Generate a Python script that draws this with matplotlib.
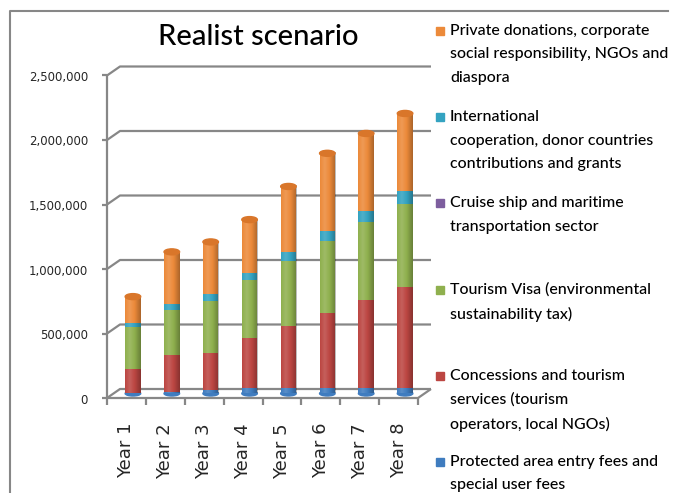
import numpy as np
import matplotlib
matplotlib.use("Agg")
import matplotlib.pyplot as plt
from matplotlib.patches import Ellipse, Rectangle
from matplotlib.lines import Line2D

years = ["Year 1", "Year 2", "Year 3", "Year 4", "Year 5", "Year 6", "Year 7", "Year 8"]

# stacked bottom -> top
protected = [5000, 10000, 30000, 40000, 40000, 40000, 40000, 40000]
concessions = [185000, 291000, 284000, 394000, 485000, 587000, 685000, 786000]
visa = [322000, 345000, 404000, 443000, 501000, 554000, 605000, 642000]
cruise = [0, 0, 0, 0, 0, 0, 0, 0]
international = [38000, 46000, 51000, 59000, 72000, 77000, 87000, 104000]
private = [201000, 406000, 406000, 412000, 507000, 604000, 599000, 599000]

series = [
    ("Protected area entry fees and\nspecial user fees", protected, "#3F7CBF"),
    ("Concessions and tourism\nservices (tourism\noperators, local NGOs)", concessions, "#BC4642"),
    ("Tourism Visa (environmental\nsustainability tax)", visa, "#8FB04E"),
    ("Cruise ship and maritime\ntransportation sector", cruise, "#7D5E9E"),
    ("International\ncooperation, donor countries\ncontributions and grants", international, "#34A3C1"),
    ("Private donations, corporate\nsocial responsibility, NGOs and\ndiaspora", private, "#EC8A3A"),
]

yticks = [0, 500000, 1000000, 1500000, 2000000, 2500000]
ytick_labels = ["0", "500,000", "1,000,000", "1,500,000", "2,000,000", "2,500,000"]

W, H = 673, 493
fig = plt.figure(figsize=(W / 100, H / 100), dpi=100)
fig.patch.set_facecolor("white")

# mid-depth plane of the fake 3D plot
ax = fig.add_axes([113.5 / W, (H - 393.5) / H, 311 / W, 322.5 / H])
ax.set_axis_off()
xlim = (-0.5, 7.5)
ylim = (0, 2500000)
ax.set_xlim(*xlim)
ax.set_ylim(*ylim)
ax.set_autoscale_on(False)

ux = (xlim[1] - xlim[0]) / 311.0
uy = (ylim[1] - ylim[0]) / 322.5
ddx, ddy = 6.5 * ux, 4.5 * uy

grid_c = "#878787"
lk = dict(color=grid_c, lw=1.6, clip_on=False, solid_capstyle="butt")

# back wall gridlines + connectors to the front axis
for v, lab in zip(yticks, ytick_labels):
    ax.plot([xlim[0] - ddx, xlim[0] + ddx, xlim[1] + ddx],
            [v - ddy, v + ddy, v + ddy], zorder=0, **lk)
    ax.plot([xlim[0] - ddx - 5 * ux, xlim[0] - ddx], [v - ddy, v - ddy], zorder=0, **lk)
    ax.text(xlim[0] - ddx - 19 * ux, v - ddy - 2 * uy, lab, ha="right", va="center",
            fontsize=8.5, color="#262626", family="DejaVu Sans")

# front left axis and floor
ax.plot([xlim[0] - ddx, xlim[0] - ddx], [ylim[0] - ddy, ylim[1] - ddy], zorder=0, **lk)
ax.plot([xlim[0] - ddx, xlim[1] - ddx, xlim[1] + ddx],
        [-ddy, -ddy, ddy], zorder=6, **lk)
for b in np.arange(xlim[0], xlim[1] + 0.01, 1.0):
    ax.plot([b - ddx, b - ddx], [-ddy, -ddy - 7 * uy], zorder=6, **lk)

x = np.arange(len(years))
bw = 0.4

# bottom curve of the cylinders
for i in x:
    ax.add_patch(Ellipse((i, 0), bw, 5 * uy, color=series[0][2], zorder=2.9, clip_on=False))

bottom = np.zeros(len(years))
for name, vals, col in series:
    ax.bar(x, vals, bw, bottom=bottom, color=col, zorder=3, linewidth=0)
    bottom = bottom + np.array(vals)

# cylinder shading
t = np.linspace(0, 1, 64)
sh = np.interp(t, [0, 0.3, 0.6, 1], [0.0, 0.14, 0.0, -0.28])
rgba = np.zeros((1, 64, 4))
rgba[0, :, :3] = np.where(sh[:, None] > 0, 1.0, 0.0)
rgba[0, :, 3] = np.abs(sh)
for i, tot in zip(x, bottom):
    ax.imshow(rgba, extent=(i - bw / 2, i + bw / 2, 0, tot), aspect="auto",
              zorder=4, interpolation="bilinear")
    ax.add_patch(Ellipse((i, tot), bw, 6 * uy, color="#D9762A", zorder=5, clip_on=False))
ax.set_xlim(*xlim)
ax.set_ylim(*ylim)

for i, lab in zip(x, years):
    ax.text(i - ddx, -ddy - 25 * uy, lab, rotation=90, ha="center", va="top",
            fontsize=13, color="#262626", family="DejaVu Sans")

# title
fig.text(258 / W, 1 - 37 / H, "Realist scenario", ha="center", va="center",
         fontsize=21, color="black", family="Lato", weight="medium")

# outer frame (top and left edges visible)
fig.add_artist(Line2D([10 / W, 10 / W, 668 / W], [0, 1 - 11 / H, 1 - 11 / H],
                      color=grid_c, lw=1.5, transform=fig.transFigure))

# legend (top entry = last series)
for k, (name, vals, col) in enumerate(series[::-1]):
    cy = 31 + 86.2 * k
    fig.add_artist(Rectangle((436 / W, 1 - (cy + 4) / H), 8 / W, 8 / H, color=col,
                             transform=fig.transFigure))
    fig.text(450 / W, 1 - (cy - 7) / H, name, ha="left", va="top", fontsize=11.4,
             linespacing=1.85, color="black", family="Lato", weight="medium")

fig.savefig("out.png", dpi=100)
